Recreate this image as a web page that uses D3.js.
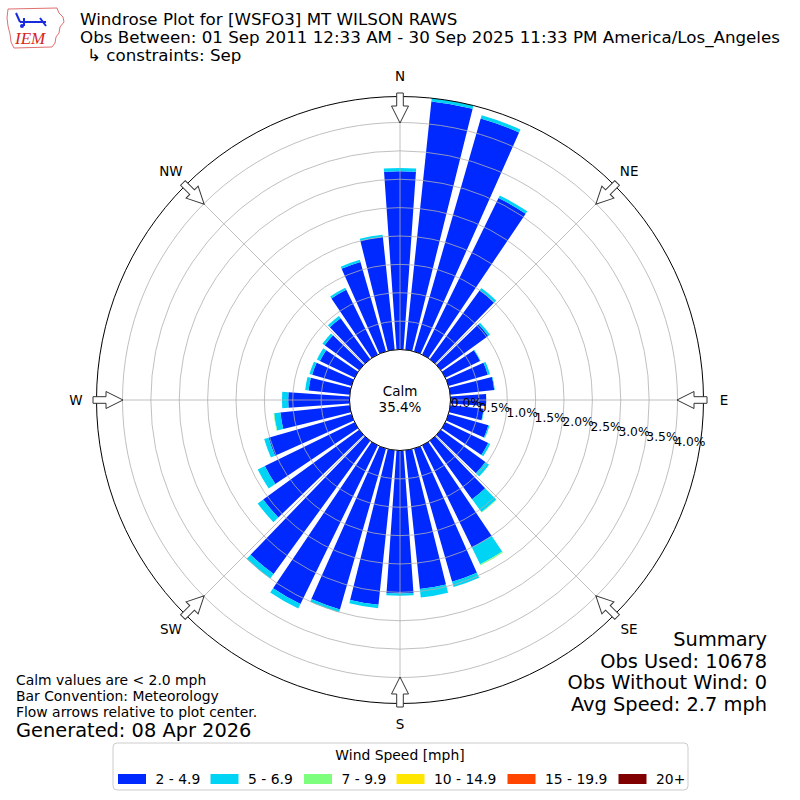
<!DOCTYPE html>
<html>
<head>
<meta charset="utf-8">
<script src="https://cdn.jsdelivr.net/npm/d3@7"></script>
<style>
  body { margin: 0; background: #fff; }
  text { font-family: "DejaVu Sans", sans-serif; }
</style>
</head>
<body>
<div id="chart"></div>
<script>
// wind direction bins (degrees, meteorological)
var directions = [0, 10, 20, 30, 40, 50, 60, 70, 80, 90, 100, 110, 120, 130, 140, 150, 160, 170,
                  180, 190, 200, 210, 220, 230, 240, 250, 260, 270, 280, 290, 300, 310, 320, 330, 340, 350];

// frequency (%) per speed class
var spd_2_49   = [3.14, 4.40, 4.27, 3.07, 1.50, 1.03, 0.68, 0.72, 0.78, 0.63, 0.59, 0.73, 0.84, 0.97, 1.27, 2.00, 2.44, 2.46,
                  2.52, 2.74, 2.95, 3.11, 2.90, 2.09, 1.76, 1.52, 1.23, 1.08, 0.73, 0.72, 0.68, 0.75, 0.89, 1.27, 1.64, 2.00];
var spd_5_69   = [0.06, 0.06, 0.06, 0.05, 0.05, 0.04, 0.01, 0.04, 0.01, 0.00, 0.01, 0.02, 0.04, 0.08, 0.28, 0.33, 0.10, 0.15,
                  0.04, 0.06, 0.05, 0.09, 0.10, 0.12, 0.14, 0.08, 0.11, 0.11, 0.06, 0.05, 0.06, 0.05, 0.05, 0.04, 0.04, 0.04];
var spd_7_99   = [0, 0, 0, 0, 0, 0, 0, 0, 0, 0, 0, 0, 0, 0, 0.01, 0.02, 0, 0,
                  0, 0, 0, 0, 0, 0, 0, 0, 0.01, 0, 0, 0, 0, 0, 0, 0, 0, 0];
var spd_10_149 = [0, 0, 0, 0, 0, 0, 0, 0, 0, 0, 0, 0, 0, 0, 0, 0, 0, 0,
                  0, 0, 0, 0, 0, 0, 0, 0, 0, 0, 0, 0, 0, 0, 0, 0, 0, 0];
var spd_15_199 = [0, 0, 0, 0, 0, 0, 0, 0, 0, 0, 0, 0, 0, 0, 0, 0, 0, 0,
                  0, 0, 0, 0, 0, 0, 0, 0, 0, 0, 0, 0, 0, 0, 0, 0, 0, 0];
var spd_20p    = [0, 0, 0, 0, 0, 0, 0, 0, 0, 0, 0, 0, 0, 0, 0, 0, 0, 0,
                  0, 0, 0, 0, 0, 0, 0, 0, 0, 0, 0, 0, 0, 0, 0, 0, 0, 0];

var speedLabels = ["2 - 4.9", "5 - 6.9", "7 - 9.9", "10 - 14.9", "15 - 19.9", "20+"];
var colors = ["#0029ff", "#00d4f5", "#7dff7d", "#ffe600", "#ff4500", "#800000"];
var ringTicks = [0.0, 0.5, 1.0, 1.5, 2.0, 2.5, 3.0, 3.5, 4.0];
var compass = ["N", "NE", "E", "SE", "S", "SW", "W", "NW"];
var compassDeg = [0, 45, 90, 135, 180, 225, 270, 315];
var calmPct = "35.4%";
var rMax = 4.458;

var cx = 400, cy = 400;
var svg = d3.select("#chart").append("svg")
  .attr("width", 800)
  .attr("height", 800);

var r = d3.scaleLinear().domain([0, rMax]).range([50.5, 303.5]);
var rad = Math.PI / 180;

var g = svg.append("g").attr("transform", "translate(" + cx + "," + cy + ")");

// stacked bars
var series = [spd_2_49, spd_5_69, spd_7_99, spd_10_149, spd_15_199, spd_20p];
var rows = directions.map(function(d, i) {
  var o = {dir: d};
  series.forEach(function(s, k) { o["s" + k] = s[i]; });
  return o;
});
var stack = d3.stack().keys(series.map(function(s, k) { return "s" + k; }))(rows);

var arc = d3.arc();
stack.forEach(function(layer, k) {
  g.append("g").selectAll("path")
    .data(layer.filter(function(d) { return d[1] - d[0] > 0; }))
    .enter().append("path")
    .attr("d", function(d) {
      return arc({
        innerRadius: r(d[0]),
        outerRadius: r(d[1]),
        startAngle: (d.data.dir - 4) * rad,
        endAngle: (d.data.dir + 4) * rad
      });
    })
    .attr("fill", colors[k]);
});

// grid rings
g.selectAll(".ring").data(ringTicks.slice(1)).enter().append("circle")
  .attr("r", function(d) { return r(d); })
  .attr("fill", "none")
  .attr("stroke", "#b0b0b0")
  .attr("stroke-width", 0.8);

// spokes
g.selectAll(".spoke").data(compassDeg).enter().append("line")
  .attr("x1", function(d) { return r(0) * Math.sin(d * rad); })
  .attr("y1", function(d) { return -r(0) * Math.cos(d * rad); })
  .attr("x2", function(d) { return r(rMax) * Math.sin(d * rad); })
  .attr("y2", function(d) { return -r(rMax) * Math.cos(d * rad); })
  .attr("stroke", "#b0b0b0")
  .attr("stroke-width", 0.8);

// outer circle
g.append("circle").attr("r", r(rMax)).attr("fill", "none").attr("stroke", "#000").attr("stroke-width", 1);

// calm circle
g.append("circle").attr("r", r(0)).attr("fill", "#fff").attr("stroke", "#000").attr("stroke-width", 1);
g.append("text").attr("x", 0).attr("y", -4).attr("text-anchor", "middle")
  .style("font-size", "13.5px").text("Calm");
g.append("text").attr("x", 0).attr("y", 12).attr("text-anchor", "middle")
  .style("font-size", "13.5px").text(calmPct);

// radial labels
g.selectAll(".rlab").data(ringTicks).enter().append("text")
  .attr("x", function(d) { return r(d) * Math.sin(100 * rad) + 1; })
  .attr("y", function(d) { return -r(d) * Math.cos(100 * rad) - 2; })
  .style("font-size", "12.3px")
  .text(function(d) { return d.toFixed(1) + "%"; });

// flow arrows
var arrowPts = [[-3.3, -307], [3.3, -307], [3.3, -294], [8.5, -294], [0, -277], [-8.5, -294], [-3.3, -294]];
g.selectAll(".arrow").data(compassDeg).enter().append("polygon")
  .attr("points", arrowPts.map(function(p) { return p.join(","); }).join(" "))
  .attr("transform", function(d) { return "rotate(" + d + ")"; })
  .attr("fill", "#fff")
  .attr("stroke", "#333")
  .attr("stroke-width", 1);

// compass labels
g.selectAll(".clab").data(compassDeg).enter().append("text")
  .attr("x", function(d) { return 324 * Math.sin(d * rad); })
  .attr("y", function(d) { return -324 * Math.cos(d * rad); })
  .attr("text-anchor", "middle")
  .attr("dominant-baseline", "central")
  .style("font-size", "13.5px")
  .text(function(d, i) { return compass[i]; });

// titles
var titles = ["Windrose Plot for [WSFO3] MT WILSON RAWS",
              "Obs Between: 01 Sep 2011 12:33 AM - 30 Sep 2025 11:33 PM America/Los_Angeles",
              "\u21b3 constraints: Sep"];
svg.append("text").attr("x", 80).attr("y", 25).style("font-size", "16.7px").text(titles[0]);
svg.append("text").attr("x", 80).attr("y", 43).style("font-size", "16.7px").text(titles[1]);
svg.append("text").attr("x", 87).attr("y", 61).style("font-size", "16.7px").text(titles[2]);

// logo
var logo = svg.append("g");
logo.append("path")
  .attr("d", "M8,9 L57,8 L59,13 L63,17 L64,22 L60,27 L59,33 L56,37 L55,43 L52,47 L14,48 L11,42 L10,34 L8,26 L7,18 Z")
  .attr("fill", "none").attr("stroke", "#e07070").attr("stroke-width", 1);
logo.append("path").attr("d", "M20,22 L46,22 M24,18 L24,26 M40,18 L46,26 M16,13 L20,22")
  .attr("stroke", "#1a2adf").attr("stroke-width", 2).attr("fill", "none");
logo.append("circle").attr("cx", 22).attr("cy", 26).attr("r", 2).attr("fill", "#1a2adf");
logo.append("text").attr("x", 15).attr("y", 44).attr("fill", "#d8241c")
  .style("font-family", "Liberation Serif, serif").style("font-style", "italic").style("font-size", "17px")
  .text("IEM");

// notes bottom left
var notes = ["Calm values are < 2.0 mph", "Bar Convention: Meteorology", "Flow arrows relative to plot center."];
svg.selectAll(".note").data(notes).enter().append("text")
  .attr("x", 16).attr("y", function(d, i) { return 685 + i * 16; })
  .style("font-size", "13.9px").text(function(d) { return d; });
svg.append("text").attr("x", 16).attr("y", 737).style("font-size", "19.4px").text("Generated: 08 Apr 2026");

// summary bottom right
var summary = ["Summary", "Obs Used: 10678", "Obs Without Wind: 0", "Avg Speed: 2.7 mph"];
svg.selectAll(".summ").data(summary).enter().append("text")
  .attr("x", 767).attr("y", function(d, i) { return 646 + i * 21.7; })
  .attr("text-anchor", "end")
  .style("font-size", "19.4px").text(function(d) { return d; });

// legend
var leg = svg.append("g");
leg.append("rect").attr("x", 113).attr("y", 743).attr("width", 575).attr("height", 47).attr("rx", 4)
  .attr("fill", "#fff").attr("stroke", "#cccccc");
leg.append("text").attr("x", 400).attr("y", 760).attr("text-anchor", "middle")
  .style("font-size", "13.9px").text("Wind Speed [mph]");
var legX = [118, 210.5, 304, 396.5, 507.5, 618.5];
speedLabels.forEach(function(lab, i) {
  leg.append("rect").attr("x", legX[i]).attr("y", 774).attr("width", 28).attr("height", 10).attr("fill", colors[i]);
  leg.append("text").attr("x", legX[i] + 37.5).attr("y", 783.5).style("font-size", "13.9px").text(lab);
});
</script>
</body>
</html>
